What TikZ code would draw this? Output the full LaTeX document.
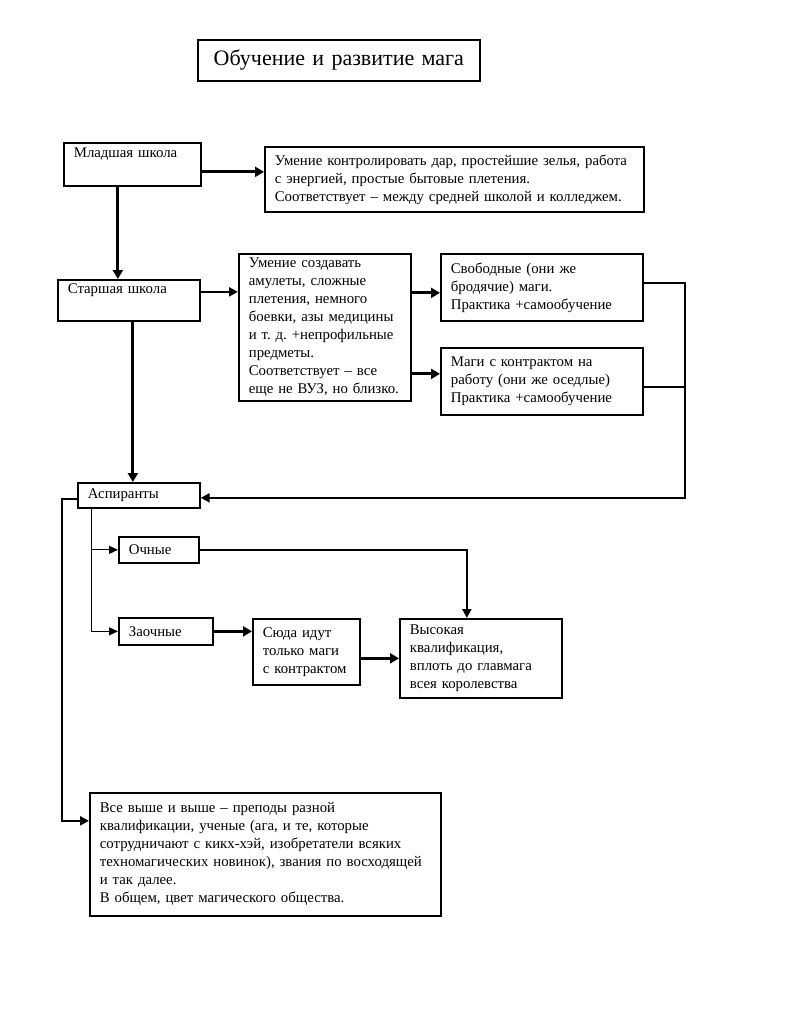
\documentclass[tikz,border=0pt]{standalone}
\usepackage{fontspec}
\setmainfont{Liberation Serif}
\frenchspacing
\usetikzlibrary{calc,arrows.meta}

\begin{document}
\begin{tikzpicture}[x=1pt, y=-1pt, every node/.style={font=\fontsize{14.8}{18}\selectfont},
  box/.style={draw, line width=1.7pt, anchor=north west, align=left, inner xsep=10pt, inner ysep=0pt},
  link/.style={line width=2.1pt, -{Triangle[length=9pt,width=9pt]}},
  boldlink/.style={line width=3.2pt, -{Triangle[length=9pt,width=10pt]}},
  thinlink/.style={line width=1.2pt, -{Triangle[length=9pt,width=8pt]}}]
\useasboundingbox (0,0) rectangle (811,1024);

\node[box, align=center, text width=262pt, minimum height=41pt, font=\fontsize{22}{26}\selectfont] (title) at (197,39) {Обучение и развитие мага};

\node[box, text width=117pt, minimum height=43pt] (mlad) at (63,142) {Младшая школа\\ \strut};
\node[box, text width=359pt, minimum height=65pt] (umen) at (264,146) {Умение контролировать дар, простейшие зелья, работа\\ с энергией, простые бытовые плетения.\\ Соответствует -- между средней школой и колледжем.};
\node[box, text width=122pt, minimum height=41pt] (star) at (57,279) {Старшая школа\\ \strut};
\node[box, text width=152pt, minimum height=147pt] (amul) at (238,253) {Умение создавать\\ амулеты, сложные\\ плетения, немного\\ боевки, азы медицины\\ и т. д. +непрофильные\\ предметы.\\ Соответствует -- все\\ еще не ВУЗ, но близко.};
\node[box, text width=182pt, minimum height=67pt] (svob) at (440,253) {Свободные (они же\\ бродячие) маги.\\ Практика +самообучение};
\node[box, text width=182pt, minimum height=67pt] (magi) at (440,347) {Маги с контрактом на\\ работу (они же оседлые)\\ Практика +самообучение};

\node[box, text width=102pt, minimum height=25pt] (asp) at (77,482) {Аспиранты};
\node[box, text width=60pt, minimum height=26pt] (ochn) at (118,536) {Очные};
\node[box, text width=74pt, minimum height=27pt] (zaoch) at (118,617) {Заочные};
\node[box, text width=87pt, minimum height=66pt] (syuda) at (252,618) {Сюда идут\\ только маги\\ с контрактом};
\node[box, text width=142pt, minimum height=79pt] (vys) at (399,618) {Высокая\\ квалификация,\\ вплоть до главмага\\ всея королевства};
\node[box, text width=331pt, minimum height=123pt] (big) at (89,792) {Все выше и выше -- преподы разной\\ квалификации, ученые (ага, и те, которые\\ сотрудничают с кикх-хэй, изобретатели всяких\\ техномагических новинок), звания по восходящей\\ и так далее.\\ В общем, цвет магического общества.};

\draw[boldlink] ($(mlad.east)+(0,7.5)$) -- ($(umen.west)+(0,-7.5)$);
\draw[boldlink] ($(mlad.south)+(-14.5,0)$) -- ($(star.north)+(-11,0)$);
\draw[link] ($(star.east)+(0,-8.5)$) -- ($(amul.west)+(0,-35.5)$);
\draw[boldlink] ($(amul.east)+(0,-34.5)$) -- ($(svob.west)+(0,5.5)$);
\draw[boldlink] ($(amul.east)+(0,46.5)$) -- ($(magi.west)+(0,-7.5)$);
\draw[link] ($(svob.east)+(0,-4.5)$) -- ++(41,0) |- ($(asp.east)+(0,2.5)$);
\draw[line width=2.1pt] ($(magi.east)+(0,5.5)$) -- ++(41,0);
\draw[boldlink] ($(star.south)+(4,0)$) -- ($(asp.north)+(-6,0)$);
\draw[link] ($(asp.west)+(0,3.5)$) -- ++(-15,0) |- ($(big.west)+(0,-33.5)$);
\draw[thinlink] ($(asp.south)+(-47,0)$) |- (ochn.west);
\draw[thinlink] ($(asp.south)+(-47,0)$) |- (zaoch.west);
\draw[link] (ochn.east) -| ($(vys.north)+(-14,0)$);
\draw[boldlink] (zaoch.east) -- (zaoch.east -| syuda.west);
\draw[boldlink] (syuda.east |- vys.west) -- (vys.west);
\end{tikzpicture}
\end{document}
